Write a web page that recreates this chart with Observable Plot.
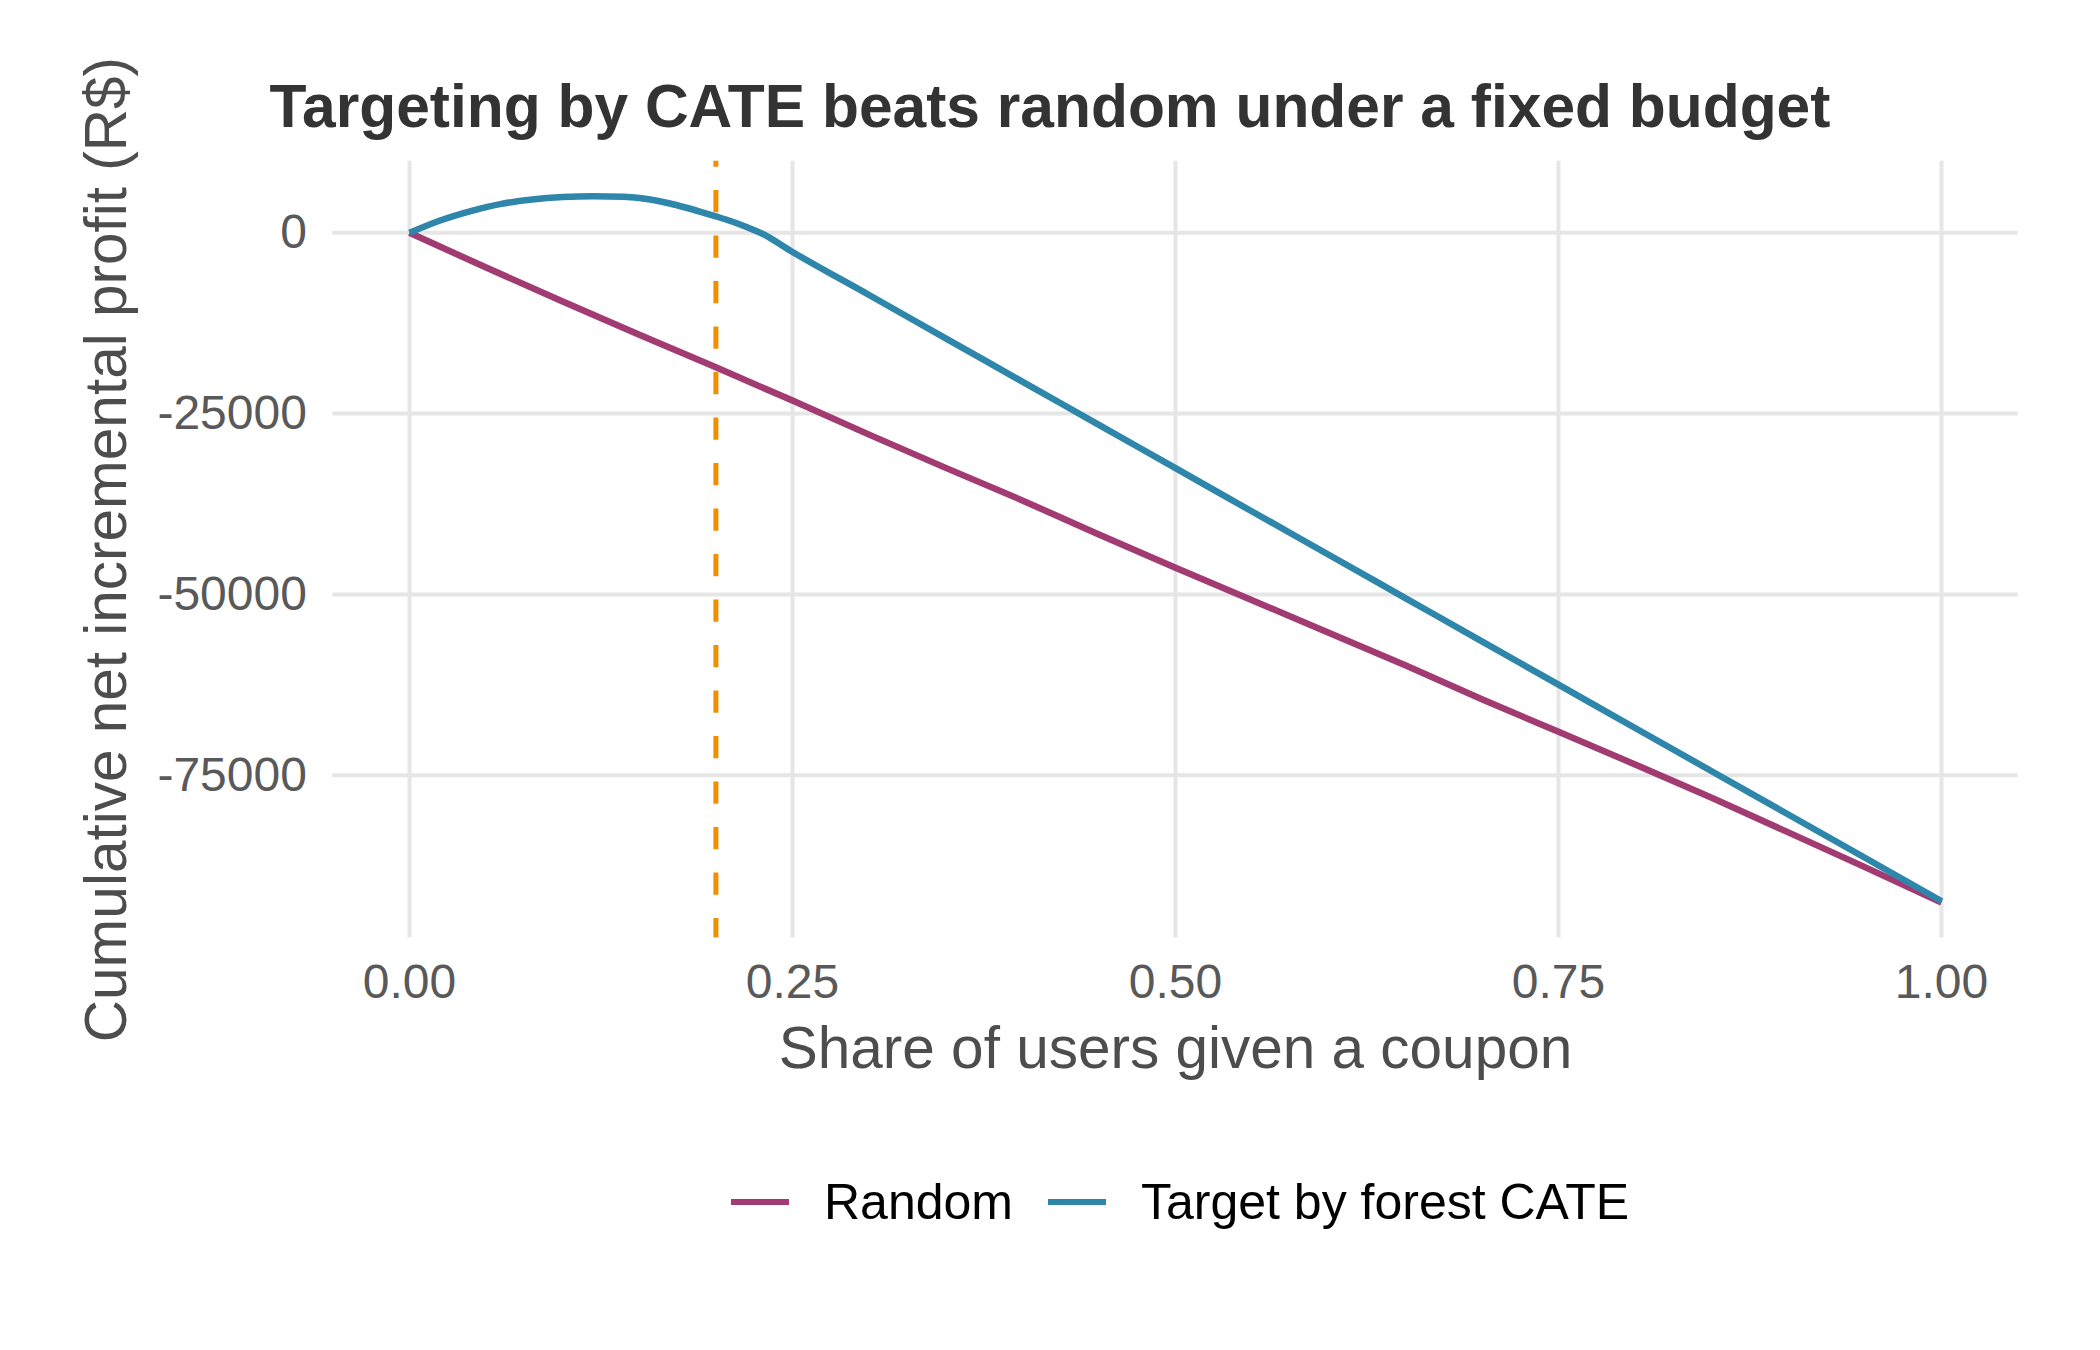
<!DOCTYPE html>
<html>
<head>
<meta charset="utf-8">
<script src="https://cdn.jsdelivr.net/npm/d3@7"></script>
<script src="https://cdn.jsdelivr.net/npm/@observablehq/plot@0.6"></script>
<style>
  html, body { margin: 0; padding: 0; background: #ffffff; }
  #wrap { position: relative; width: 2100px; height: 1350px; overflow: hidden; background: #ffffff;
          font-family: "Liberation Sans", Arial, Helvetica, sans-serif; }
  #chart { position: absolute; left: 0; top: 0; }
  #title { position: absolute; left: 0; top: 76px; width: 2100px; text-align: center;
           font-weight: bold; font-size: 60.5px; line-height: 60px; color: #333333; z-index: 2; }
  #legend { position: absolute; left: 731px; top: 1177px; display: flex; align-items: center; z-index: 2; }
  .key { width: 58px; height: 6.5px; }
  .lab { font-size: 50px; line-height: 50px; color: #000000; margin-left: 35px; margin-right: 35px; white-space: nowrap; }
</style>
</head>
<body>
<div id="wrap">
  <div id="chart"></div>
  <div id="title"></div>
  <div id="legend"></div>
</div>
<script>
// ---- data ----
const titleText = "Targeting by CATE beats random under a fixed budget";
const xLabel = "Share of users given a coupon";
const yLabel = "Cumulative net incremental profit (R$)";

const seriesNames = ["Random", "Target by forest CATE"];
const seriesColors = ["#A23B72", "#2E86AB"];

const xTicks = [0, 0.25, 0.5, 0.75, 1];
const yTicks = [-75000, -50000, -25000, 0];
const budgetShare = 0.2;

const shareRandom = [0, 0.05, 0.10, 0.15, 0.20, 0.25, 0.30, 0.35, 0.40, 0.45, 0.50, 0.55, 0.60, 0.65,
  0.70, 0.75, 0.80, 0.85, 0.90, 0.95, 1.00];
const profitRandom = [0, -4800, -9500, -14100, -18600, -23200, -27900, -32500, -37000, -41700, -46300, -50800, -55300, -59800,
  -64500, -69000, -73500, -78100, -82900, -87700, -92600];

const shareForest = [0, 0.02, 0.04, 0.06, 0.08, 0.10, 0.12, 0.14, 0.15, 0.16, 0.17, 0.18, 0.19, 0.20, 0.21, 0.22,
  0.23, 0.25, 0.30, 0.35, 0.40, 0.45, 0.50, 0.55, 0.60, 0.65, 0.70, 0.75, 0.80, 0.85, 0.90, 0.95, 1.00];
const profitForest = [0, 1700, 3000, 4000, 4600, 4950, 5070, 5000, 4820, 4500, 4050, 3500, 2900, 2270, 1600, 800,
  -100, -2650, -8600, -14590, -20570, -26560, -32540, -38530, -44510, -50500, -56490, -62470, -68460, -74440,
  -80430, -86410, -92400];

// ---- build tables ----
const randomData = shareRandom.map((s, i) => ({share: s, profit: profitRandom[i], series: seriesNames[0]}));
const forestData = shareForest.map((s, i) => ({share: s, profit: profitForest[i], series: seriesNames[1]}));

const gridStyle = {stroke: "#E6E6E6", strokeOpacity: 1, strokeWidth: 4};

const chart = Plot.plot({
  width: 2100,
  height: 1110,
  marginLeft: 332.4,
  marginRight: 82.4,
  marginTop: 160.7,
  marginBottom: 172.5,
  x: {domain: [-0.05, 1.05], label: null},
  y: {domain: [-97500, 9900], label: null},
  style: {fontFamily: "'Liberation Sans', Arial, Helvetica, sans-serif", fontSize: "48px", background: "transparent"},
  marks: [
    Plot.gridX(xTicks, gridStyle),
    Plot.gridY(yTicks, gridStyle),
    Plot.ruleX([budgetShare], {stroke: "#F18F01", strokeWidth: 5, strokeDasharray: "22.3,23.2", strokeDashoffset: 16.2}),
    Plot.line(randomData, {x: "share", y: "profit", stroke: seriesColors[0], strokeWidth: 6.5, strokeLinecap: "butt", strokeLinejoin: "round"}),
    Plot.line(forestData, {x: "share", y: "profit", stroke: seriesColors[1], strokeWidth: 6.5, strokeLinecap: "butt", strokeLinejoin: "round", curve: "monotone-x"}),
    Plot.axisX(xTicks, {tickSize: 0, tickPadding: 25.5, tickFormat: d3.format(".2f"), label: null, color: "#595959", fontSize: 48}),
    Plot.axisY(yTicks, {tickSize: 0, tickPadding: 26, tickFormat: d => String(d), label: null, color: "#595959", fontSize: 48}),
    Plot.text([xLabel], {text: d => d, frameAnchor: "bottom", dy: 129.5, lineAnchor: "bottom", textAnchor: "middle", fontSize: 58.5, fill: "#4D4D4D"}),
    Plot.text([yLabel], {text: d => d, frameAnchor: "left", dx: -207.4, rotate: -90, lineAnchor: "bottom", textAnchor: "middle", fontSize: 58.5, fill: "#4D4D4D"})
  ]
});
document.getElementById("chart").appendChild(chart);

document.getElementById("title").textContent = titleText;

const legend = document.getElementById("legend");
seriesNames.forEach((name, i) => {
  const k = document.createElement("div");
  k.className = "key";
  k.style.background = seriesColors[i];
  const t = document.createElement("div");
  t.className = "lab";
  t.textContent = name;
  if (i === seriesNames.length - 1) t.style.marginRight = "0px";
  legend.appendChild(k);
  legend.appendChild(t);
});
</script>
</body>
</html>
